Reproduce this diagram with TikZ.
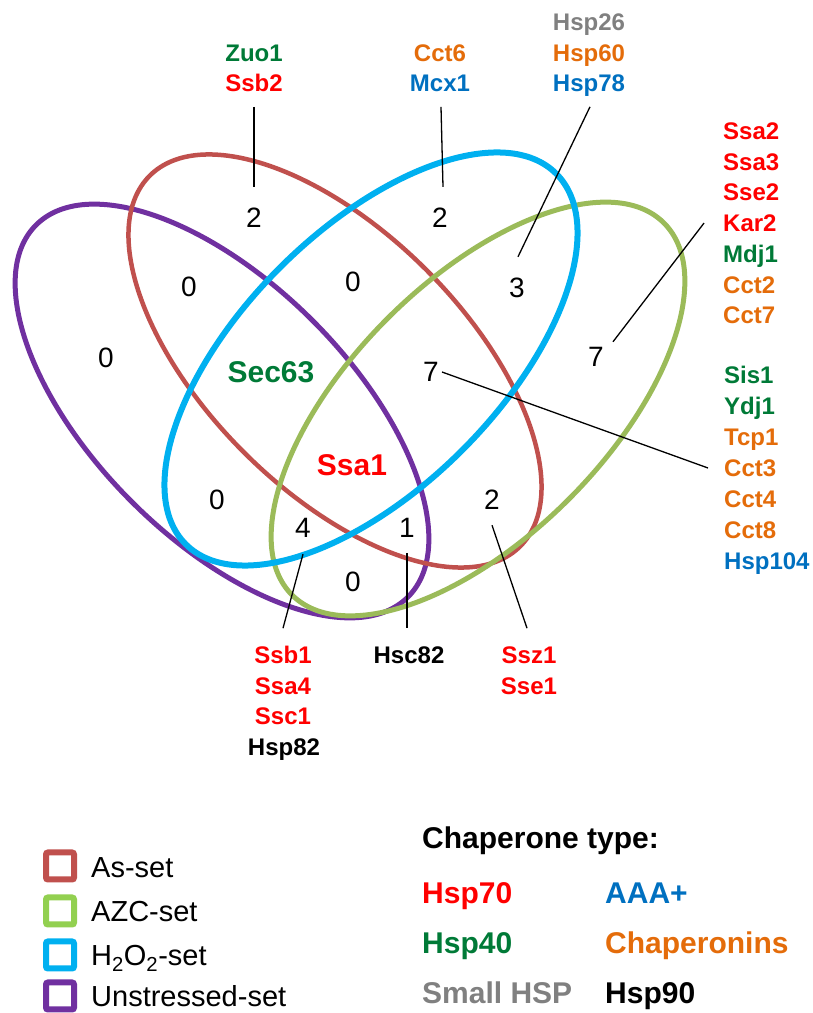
\documentclass[tikz,border=0pt]{standalone}
\usepackage{fontspec}
\setmainfont{Liberation Sans}
\definecolor{asset}{RGB}{192,80,77}
\definecolor{azcset}{RGB}{155,187,89}
\definecolor{azcbox}{RGB}{146,208,80}
\definecolor{hooset}{RGB}{0,176,240}
\definecolor{unsset}{RGB}{112,48,160}
\definecolor{hspseventy}{RGB}{255,0,0}
\definecolor{hspforty}{RGB}{0,122,55}
\definecolor{chapnin}{RGB}{228,108,10}
\definecolor{aaaplus}{RGB}{0,112,192}
\definecolor{smallhsp}{RGB}{128,128,128}
\begin{document}
\begin{tikzpicture}[x=1pt,y=1pt,
    gene/.style={inner sep=0pt, font=\fontsize{24}{24}\selectfont\bfseries, text height=17.2pt, text depth=0pt},
    num/.style={inner sep=0pt, font=\fontsize{28}{28}\selectfont, text height=20pt, text depth=0pt},
    big/.style={inner sep=0pt, font=\fontsize{30}{30}\selectfont\bfseries, text height=21.5pt, text depth=0pt},
    leader/.style={line width=1.3pt},
    setbox/.style={draw=#1, line width=6pt, rounded corners=2pt, minimum width=28pt, minimum height=27pt, inner sep=0pt},
    settext/.style={inner sep=0pt, anchor=west, font=\fontsize{29}{29}\selectfont, text height=21pt, text depth=0pt},
    typetext/.style={inner sep=0pt, anchor=west, font=\fontsize{30}{30}\selectfont\bfseries, text height=21.5pt, text depth=0pt}]
    \useasboundingbox (0,0) rectangle (813,1013);

    \draw[unsset, line width=5pt, rotate around={-45:(222,602)}] (222,602) ellipse [x radius=263pt, y radius=128pt];
    \draw[asset, line width=4.5pt, rotate around={-45:(335,652)}] (335,652) ellipse [x radius=262pt, y radius=129pt];
    \draw[azcset, line width=5pt, rotate around={45:(478,604)}] (478,604) ellipse [x radius=263pt, y radius=128pt];
    \draw[hooset, line width=6pt, rotate around={45:(371,654)}] (371,654) ellipse [x radius=262pt, y radius=129pt];

    \node[num] (n2a) at (254,795) {2};
    \node[num] (n2b) at (440,795) {2};
    \node[num] (n3) at (517,725) {3};
    \node[num] (n0a) at (106,655) {0};
    \node[num] (n0b) at (189,726) {0};
    \node[num] (n0c) at (353,731) {0};
    \node[num] (n7a) at (431,641) {7};
    \node[num] (n7b) at (596,656) {7};
    \node[num] (n0d) at (217,513) {0};
    \node[num] (n4) at (303,485) {4};
    \node[num] (n1) at (407,485) {1};
    \node[num] (n2c) at (492,513) {2};
    \node[num] (n0e) at (353,431) {0};
    \node[big, text=hspforty] (sec63) at (271,641) {Sec63};
    \node[big, text=hspseventy] (ssa1) at (352,548) {Ssa1};

    \node[gene, text=hspforty] (zuo1) at (254,960) {Zuo1};
    \node[gene, text=hspseventy] (ssb2) at (254,930) {Ssb2};
    \node[gene, text=chapnin] (cct6) at (440,960) {Cct6};
    \node[gene, text=aaaplus] (mcx1) at (440,930) {Mcx1};
    \node[gene, text=smallhsp] (hsp26) at (589,991) {Hsp26};
    \node[gene, text=chapnin] (hsp60) at (589,960) {Hsp60};
    \node[gene, text=aaaplus] (hsp78) at (589,930) {Hsp78};

    \node[gene, anchor=west, text=hspseventy] (ssa2) at (723,882) {Ssa2};
    \node[gene, anchor=west, text=hspseventy] (ssa3) at (723,851.3) {Ssa3};
    \node[gene, anchor=west, text=hspseventy] (sse2) at (723,820.6) {Sse2};
    \node[gene, anchor=west, text=hspseventy] (kar2) at (723,789.9) {Kar2};
    \node[gene, anchor=west, text=hspforty] (mdj1) at (723,759.2) {Mdj1};
    \node[gene, anchor=west, text=chapnin] (cct2) at (723,728.5) {Cct2};
    \node[gene, anchor=west, text=chapnin] (cct7) at (723,697.8) {Cct7};

    \node[gene, anchor=west, text=hspforty] (sis1) at (724,638) {Sis1};
    \node[gene, anchor=west, text=hspforty] (ydj1) at (724,607) {Ydj1};
    \node[gene, anchor=west, text=chapnin] (tcp1) at (724,576) {Tcp1};
    \node[gene, anchor=west, text=chapnin] (cct3) at (724,545) {Cct3};
    \node[gene, anchor=west, text=chapnin] (cct4) at (724,514) {Cct4};
    \node[gene, anchor=west, text=chapnin] (cct8) at (724,483) {Cct8};
    \node[gene, anchor=west, text=aaaplus] (hsp104) at (724,452) {Hsp104};

    \node[gene, text=hspseventy] (ssb1) at (283,358) {Ssb1};
    \node[gene, text=hspseventy] (ssa4) at (283,327.3) {Ssa4};
    \node[gene, text=hspseventy] (ssc1) at (283,296.6) {Ssc1};
    \node[gene] (hsp82) at (284,265.9) {Hsp82};
    \node[gene] (hsc82) at (409,358) {Hsc82};
    \node[gene, text=hspseventy] (ssz1) at (529,358) {Ssz1};
    \node[gene, text=hspseventy] (sse1) at (529,327.3) {Sse1};

    \draw[leader] ([yshift=-15pt]ssb2.south) -- ([yshift=21pt]n2a.north);
    \draw[leader] ([shift={(1pt,-15pt)}]mcx1.south) -- ([shift={(3pt,21pt)}]n2b.north);
    \draw[leader] ([shift={(1pt,-15pt)}]hsp78.south) -- ([shift={(1pt,21pt)}]n3.north);
    \draw[leader] ([xshift=-19pt]kar2.west) -- ([shift={(9pt,5pt)}]n7b.north east);
    \draw[leader] ([xshift=3pt]n7a.east) -- ([xshift=-16pt]cct3.west);
    \draw[leader] ([yshift=-16pt]n4.south) -- ([yshift=18pt]ssb1.north);
    \draw[leader] ([yshift=-15pt]n1.south) -- ([shift={(-2pt,18pt)}]hsc82.north);
    \draw[leader] ([yshift=-15pt]n2c.south) -- ([shift={(-2pt,18pt)}]ssz1.north);

    \node[setbox=asset] (boxas) at (60,147) {};
    \node[settext] (txtas) at (91,146) {As-set};
    \node[setbox=azcbox] (boxazc) at (60,102) {};
    \node[settext] (txtazc) at (91,102) {AZC-set};
    \node[setbox=hooset] (boxhoo) at (60,58) {};
    \node[settext] (txthoo) at (91,58) {H\textsubscript{2}O\textsubscript{2}-set};
    \node[setbox=unsset] (boxuns) at (60,17) {};
    \node[settext] (txtuns) at (91,17) {Unstressed-set};

    \node[typetext] (typehead) at (422,175) {Chaperone type:};
    \node[typetext, text=hspseventy] (typeseventy) at (422,120) {Hsp70};
    \node[typetext, text=aaaplus] (typeaaa) at (605,120) {AAA+};
    \node[typetext, text=hspforty] (typeforty) at (422,70) {Hsp40};
    \node[typetext, text=chapnin] (typechap) at (605,70) {Chaperonins};
    \node[typetext, text=smallhsp] (typesmall) at (422,20) {Small HSP};
    \node[typetext] (typeninety) at (605,20) {Hsp90};
\end{tikzpicture}
\end{document}
